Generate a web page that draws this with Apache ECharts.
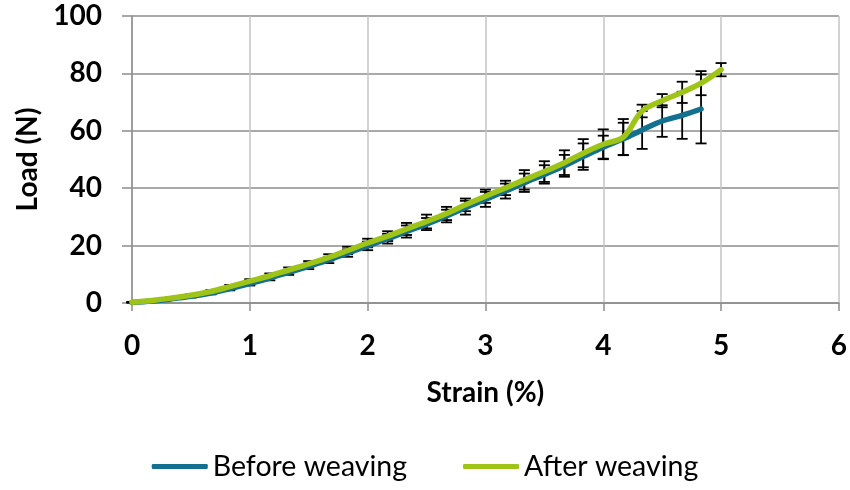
<!DOCTYPE html>
<html>
<head>
<meta charset="utf-8">
<script src="https://cdn.jsdelivr.net/npm/echarts@6/dist/echarts.min.js"></script>
<style>
  html, body { margin: 0; padding: 0; background: #fff; }
  #chart { width: 850px; height: 490px; }
</style>
</head>
<body>
<div id="chart"></div>
<script>
// Strain sampling points (%)
const strainAfter = [0, 0.17, 0.33, 0.5, 0.67, 0.83, 1.0, 1.17, 1.33, 1.5, 1.67, 1.83, 2.0, 2.17, 2.33, 2.5,
  2.67, 2.83, 3.0, 3.17, 3.33, 3.5, 3.67, 3.83, 4.0, 4.17, 4.33, 4.5, 4.67, 4.83, 5.0];
const strainBefore = [0, 0.17, 0.33, 0.5, 0.67, 0.83, 1.0, 1.17, 1.33, 1.5, 1.67, 1.83, 2.0, 2.17, 2.33, 2.5,
  2.67, 2.83, 3.0, 3.17, 3.33, 3.5, 3.67, 3.83, 4.0, 4.17, 4.33, 4.5, 4.67, 4.83];

// Mean load (N)
const loadBefore = [0.2, 0.7, 1.4, 2.3, 3.5, 5.0, 6.8, 8.7, 10.7, 12.8, 15.0, 17.4, 19.9, 22.4, 24.9, 27.5,
  30.3, 33.2, 36.1, 39.0, 41.9, 44.8, 47.8, 51.0, 54.3, 57.2, 60.3, 63.4, 65.4, 67.6];
const loadAfter = [0.3, 0.9, 1.7, 2.7, 4.0, 5.7, 7.6, 9.5, 11.5, 13.6, 15.9, 18.3, 20.9, 23.3, 25.8, 28.4,
  31.2, 34.2, 37.2, 40.1, 42.9, 45.8, 48.9, 52.2, 55.3, 57.8, 66.9, 70.5, 73.4, 76.6, 81.3];

// Standard deviation of load (N)
const sdBefore = [0.1, 0.2, 0.3, 0.4, 0.5, 0.6, 0.7, 0.8, 0.9, 1.0, 1.1, 1.3, 1.5, 1.7, 2.1, 2.1,
  2.2, 2.4, 2.6, 2.6, 3.2, 3.2, 3.8, 4.6, 4.0, 5.6, 6.6, 5.5, 8.2, 12.0];
const sdAfter = [0.1, 0.2, 0.3, 0.4, 0.5, 0.6, 0.7, 0.8, 0.9, 1.0, 1.1, 1.3, 1.5, 1.7, 2.1, 2.4,
  2.3, 2.2, 2.3, 2.5, 3.4, 3.6, 4.3, 4.9, 5.2, 6.3, 2.2, 2.3, 3.7, 4.2, 2.3];

const xTicks = [0, 1, 2, 3, 4, 5, 6];
const yTicks = [0, 20, 40, 60, 80, 100];

const seriesNames = ['Before weaving', 'After weaving'];
const colBefore = '#13708f';
const colAfter = '#9dc417';

const pairs = (xs, ys) => xs.map((x, i) => [x, ys[i]]);
const triples = (xs, ys, es) => xs.map((x, i) => [x, ys[i], es[i]]);

// Vertical whisker with caps at mean ± sd
function errorBar(params, api) {
  const x = api.value(0), v = api.value(1), e = api.value(2);
  const top = api.coord([x, v + e]);
  const bot = api.coord([x, Math.max(0, v - e)]);
  const w = 5.5;
  const style = { stroke: '#000', lineWidth: 1.8, fill: null };
  return {
    type: 'group',
    children: [
      { type: 'line', shape: { x1: top[0], y1: top[1], x2: bot[0], y2: bot[1] }, style },
      { type: 'line', shape: { x1: top[0] - w, y1: top[1], x2: top[0] + w, y2: top[1] }, style },
      { type: 'line', shape: { x1: bot[0] - w, y1: bot[1], x2: bot[0] + w, y2: bot[1] }, style }
    ]
  };
}

const font = 'Lato, "Open Sans", sans-serif';
const chart = echarts.init(document.getElementById('chart'), null, { renderer: 'canvas' });

chart.setOption({
  animation: false,
  backgroundColor: '#fff',
  grid: { left: 132, right: 8, top: 16, bottom: 187, containLabel: false },
  legend: {
    data: seriesNames.map(n => ({ name: n, icon: 'roundRect' })),
    bottom: 4,
    left: 'center',
    itemWidth: 56,
    itemHeight: 5,
    itemGap: 56,
    textStyle: { fontFamily: font, fontSize: 28.5, color: '#000' }
  },
  xAxis: {
    type: 'value',
    min: xTicks[0],
    max: xTicks[xTicks.length - 1],
    interval: 1,
    name: 'Strain (%)',
    nameLocation: 'middle',
    nameGap: 76,
    nameTextStyle: { fontFamily: font, fontSize: 28, fontWeight: 'bold', color: '#000' },
    axisLine: { show: true, lineStyle: { color: '#8c8c8c', width: 1.5 } },
    axisTick: { show: true, length: 8, lineStyle: { color: '#8c8c8c', width: 1.5 } },
    axisLabel: { margin: 29, fontFamily: font, fontSize: 28, fontWeight: 'bold', color: '#000' },
    splitLine: { show: true, lineStyle: { color: '#c4c4c4', width: 1.5 } }
  },
  yAxis: {
    type: 'value',
    min: yTicks[0],
    max: yTicks[yTicks.length - 1],
    interval: 20,
    name: 'Load (N)',
    nameLocation: 'middle',
    nameGap: 90,
    nameRotate: 90,
    nameTextStyle: { fontFamily: font, fontSize: 28, fontWeight: 'bold', color: '#000' },
    axisLine: { show: true, lineStyle: { color: '#8c8c8c', width: 1.5 } },
    axisTick: { show: true, length: 10, lineStyle: { color: '#8c8c8c', width: 1.5 } },
    axisLabel: { margin: 30, fontFamily: font, fontSize: 28, fontWeight: 'bold', color: '#000' },
    splitLine: { show: true, lineStyle: { color: '#8c8c8c', width: 1.5 } }
  },
  series: [
    {
      name: 'errBefore',
      type: 'custom',
      renderItem: errorBar,
      data: triples(strainBefore, loadBefore, sdBefore),
      z: 1,
      silent: true
    },
    {
      name: 'errAfter',
      type: 'custom',
      renderItem: errorBar,
      data: triples(strainAfter, loadAfter, sdAfter),
      z: 1,
      silent: true
    },
    {
      name: seriesNames[0],
      type: 'line',
      data: pairs(strainBefore, loadBefore),
      smooth: 0.35,
      showSymbol: false,
      symbol: 'none',
      lineStyle: { color: colBefore, width: 5.5, cap: 'round' },
      itemStyle: { color: colBefore },
      z: 3
    },
    {
      name: seriesNames[1],
      type: 'line',
      data: pairs(strainAfter, loadAfter),
      smooth: 0.35,
      showSymbol: false,
      symbol: 'none',
      lineStyle: { color: colAfter, width: 5.5, cap: 'round' },
      itemStyle: { color: colAfter },
      z: 4
    }
  ]
});
</script>
</body>
</html>
